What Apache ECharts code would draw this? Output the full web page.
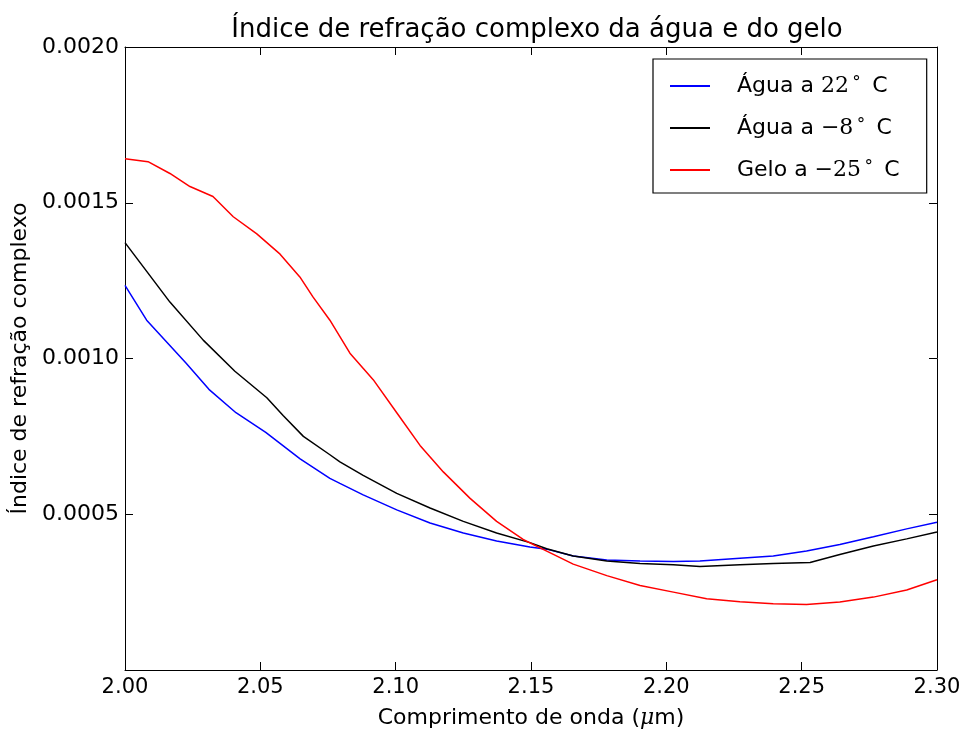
<!DOCTYPE html>
<html>
<head>
<meta charset="utf-8">
<script src="https://cdn.jsdelivr.net/npm/echarts@6/dist/echarts.min.js"></script>
<style>html,body{margin:0;padding:0;background:#fff}#c{width:965px;height:734px}</style>
</head>
<body>
<div id="c"></div>
<script>
// Wavelength (µm) and complex refractive index (units of 1e-3)
const blueX = [2.000,2.008,2.0226,2.031,2.041,2.052,2.0647,2.0757,2.0794,2.088,2.1004,2.1127,2.125,2.1373,2.1496,2.1558,2.1656,2.178,2.1903,2.2026,2.2124,2.2272,2.2395,2.2518,2.2641,2.2765,2.2888,2.300];
const blueY = [1.235,1.123,0.985,0.901,0.826,0.763,0.678,0.615,0.599,0.562,0.514,0.472,0.440,0.414,0.395,0.388,0.366,0.353,0.350,0.348,0.350,0.359,0.366,0.382,0.403,0.428,0.453,0.474];

const blackX = [2.000,2.0166,2.0289,2.0406,2.0524,2.0585,2.0659,2.0757,2.0794,2.088,2.1004,2.1127,2.125,2.1373,2.1496,2.1558,2.1656,2.178,2.1903,2.2026,2.2124,2.2272,2.2395,2.2531,2.2641,2.2765,2.2888,2.300];
const blackY = [1.372,1.181,1.059,0.959,0.874,0.816,0.750,0.691,0.668,0.625,0.567,0.520,0.477,0.440,0.409,0.389,0.366,0.350,0.342,0.338,0.332,0.338,0.342,0.345,0.371,0.398,0.421,0.443];

const redX = [2.000,2.0085,2.0166,2.024,2.0325,2.040,2.0487,2.0573,2.0646,2.0695,2.0757,2.0794,2.0831,2.0917,2.1004,2.109,2.1176,2.1275,2.1373,2.1471,2.1545,2.1656,2.178,2.1903,2.2026,2.2149,2.2272,2.2395,2.2518,2.2641,2.2765,2.2888,2.300];
const redY = [1.641,1.632,1.594,1.552,1.520,1.455,1.400,1.335,1.262,1.197,1.123,1.070,1.017,0.932,0.826,0.721,0.636,0.551,0.477,0.419,0.387,0.340,0.303,0.271,0.250,0.229,0.219,0.213,0.210,0.218,0.234,0.257,0.290];

const xTicks = [2.00,2.05,2.10,2.15,2.20,2.25,2.30];
const yTicks = [0.0005,0.0010,0.0015,0.0020];

const seriesNames = ['Água a 22° C','Água a −8° C','Gelo a −25° C'];

function pairs(xs, ys){ return xs.map((x,i)=>[x, ys[i]*1e-3]); }

const FONT = 'DejaVu Sans';
const chart = echarts.init(document.getElementById('c'), null, {renderer:'canvas'});

const tickCommon = {show:true, inside:true, length:8, lineStyle:{color:'#000', width:1}};

const option = {
  animation:false,
  backgroundColor:'#fff',
  title:{
    text:'Índice de refração complexo da água e do gelo',
    left:532, top:12, textAlign:'center',
    textStyle:{fontFamily:FONT, fontSize:26, fontWeight:'normal', color:'#000'}
  },
  legend:{
    orient:'vertical',
    left:653, top:59,
    padding:[15,27,11,17],
    itemGap:18,
    itemWidth:40, itemHeight:2,
    icon:'rect',
    borderColor:'#000', borderWidth:1.2,
    backgroundColor:'#fff',
    data:seriesNames,
    textStyle:{fontFamily:FONT, fontSize:22, lineHeight:24, color:'#000', padding:[0,0,0,22],
      rich:{
        m:{fontFamily:'DejaVu Serif', fontSize:22, lineHeight:24, color:'#000'},
        d:{fontFamily:'DejaVu Serif', fontSize:17, lineHeight:24, color:'#000', verticalAlign:'top', padding:[0,0,6,0]}
      }},
    formatter:function(n){
      const m = n.match(/^(.* a )(.*)° C$/);
      if(!m) return n;
      return m[1] + '{m|' + m[2] + '}{d|\u2009°}\u2009 C';
    }
  },
  grid:{left:125, right:28, top:47, bottom:57, containLabel:false},
  xAxis:[{
    type:'value', min:2.0, max:2.3, interval:0.05,
    axisLine:{show:true, onZero:false, lineStyle:{color:'#000', width:1}},
    axisTick:tickCommon,
    splitLine:{show:false},
    axisLabel:{fontFamily:FONT, fontSize:21, color:'#000', margin:7,
      formatter:v=>{ const t = xTicks.find(a=>Math.abs(a-v)<1e-6); return t!==undefined ? t.toFixed(2) : ''; }},
    name:'Comprimento de onda ({i|μ}m)', nameLocation:'middle', nameGap:37,
    nameTextStyle:{fontFamily:FONT, fontSize:22, color:'#000',
      rich:{i:{fontFamily:'DejaVu Serif', fontStyle:'italic', fontSize:22, color:'#000'}}}
  },{
    type:'value', position:'top', min:2.0, max:2.3, interval:0.05,
    axisLine:{show:true, onZero:false, lineStyle:{color:'#000', width:1}},
    axisTick:tickCommon, axisLabel:{show:false}, splitLine:{show:false}
  }],
  yAxis:[{
    type:'value', min:0, max:0.002, interval:0.0005,
    axisLine:{show:true, onZero:false, lineStyle:{color:'#000', width:1}},
    axisTick:tickCommon,
    splitLine:{show:false},
    axisLabel:{fontFamily:FONT, fontSize:22, color:'#000', margin:6,
      formatter:v=>{ const t = yTicks.find(a=>Math.abs(a-v)<1e-9); return t!==undefined ? t.toFixed(4) : ''; }},
    name:'Índice de refração complexo', nameLocation:'middle', nameGap:93, nameRotate:90,
    nameTextStyle:{fontFamily:FONT, fontSize:22, color:'#000'}
  },{
    type:'value', position:'right', min:0, max:0.002, interval:0.0005,
    axisLine:{show:true, onZero:false, lineStyle:{color:'#000', width:1}},
    axisTick:tickCommon, axisLabel:{show:false}, splitLine:{show:false}
  }],
  series:[
    {name:seriesNames[0], type:'line', data:pairs(blueX, blueY), symbol:'none', smooth:false,
      lineStyle:{color:'#0000ff', width:1.5}, itemStyle:{color:'#0000ff'}},
    {name:seriesNames[1], type:'line', data:pairs(blackX, blackY), symbol:'none', smooth:false,
      lineStyle:{color:'#000000', width:1.5}, itemStyle:{color:'#000000'}},
    {name:seriesNames[2], type:'line', data:pairs(redX, redY), symbol:'none', smooth:false,
      lineStyle:{color:'#ff0000', width:1.5}, itemStyle:{color:'#ff0000'}}
  ]
};
chart.setOption(option);
</script>
</body>
</html>
